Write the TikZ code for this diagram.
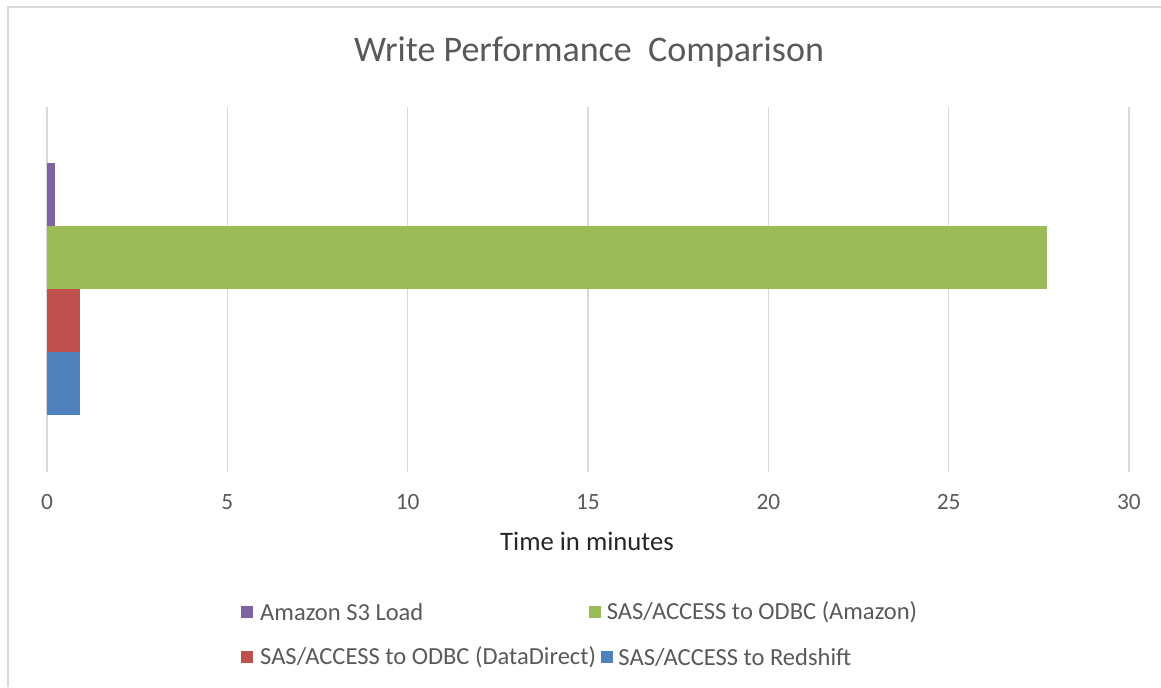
\documentclass[tikz,border=0pt]{standalone}
\usepackage{fontspec}
\setmainfont{Carlito}
\usetikzlibrary{positioning}
\definecolor{gridgray}{HTML}{D9D9D9}
\definecolor{txtgray}{HTML}{595959}
\definecolor{s3purple}{HTML}{8064A2}
\definecolor{amzgreen}{HTML}{9BBB59}
\definecolor{ddred}{HTML}{C0504D}
\definecolor{rsblue}{HTML}{4F81BD}
\tikzset{
  frame/.style={draw=gridgray, line width=1.5pt},
  gridline/.style={draw=gridgray, line width=0.9pt},
  ticklabel/.style={text=txtgray, font=\fontsize{17.5}{19}\selectfont, inner sep=0pt},
  charttitle/.style={text=txtgray, font=\fontsize{27}{30}\selectfont, inner sep=0pt},
  axistitle/.style={text=black!85, font=\fontsize{20}{22}\selectfont, inner sep=0pt},
  legkey/.style={minimum size=9pt, inner sep=0pt},
  legtext/.style={text=txtgray, font=\fontsize{18.4}{20}\selectfont, inner sep=0pt, anchor=west}
}

\begin{document}
\begin{tikzpicture}[x=0.75pt, y=-0.75pt]
\useasboundingbox (0,0) rectangle (1161,687);
\draw[frame] (8,687) -- (8,7) -- (1161,7);
\node[charttitle] (title) at (589,52) {Write Performance\ \ Comparison};
% grid and ticks
\foreach \v [count=\i from 0] in {0,5,...,30} {
  \draw[gridline] (47+180.33*\i,107) -- ++(0,365);
  \node[ticklabel] (tick\i) at (47+180.33*\i,502) {\v};
}
% bars, x in minutes
\begin{scope}[xshift=35.25pt, x=27.05pt]
  \fill[s3purple] (0,163) rectangle (0.22,226);
  \fill[amzgreen] (0,226) rectangle (27.72,289);
  \fill[ddred] (0,289) rectangle (0.92,352);
  \fill[rsblue] (0,352) rectangle (0.92,415);
\end{scope}
\node[axistitle] (xtitle) at (587,541) {Time in minutes};
% legend
\node[legkey, fill=s3purple] (key1) at (247,612) {};
\node[legtext, right=5pt of key1] (leg1) {Amazon S3 Load};
\node[legkey, fill=amzgreen] (key2) at (595,612) {};
\node[legtext, right=4pt of key2] (leg2) {SAS/ACCESS to ODBC (Amazon)};
\node[legkey, fill=ddred] (key3) at (247,657) {};
\node[legtext, right=5pt of key3] (leg3) {SAS/ACCESS to ODBC (DataDirect)};
\node[legkey, fill=rsblue, right=3pt of leg3] (key4) {};
\node[legtext, right=4pt of key4] (leg4) {SAS/ACCESS to Redshift};
\end{tikzpicture}
\end{document}
